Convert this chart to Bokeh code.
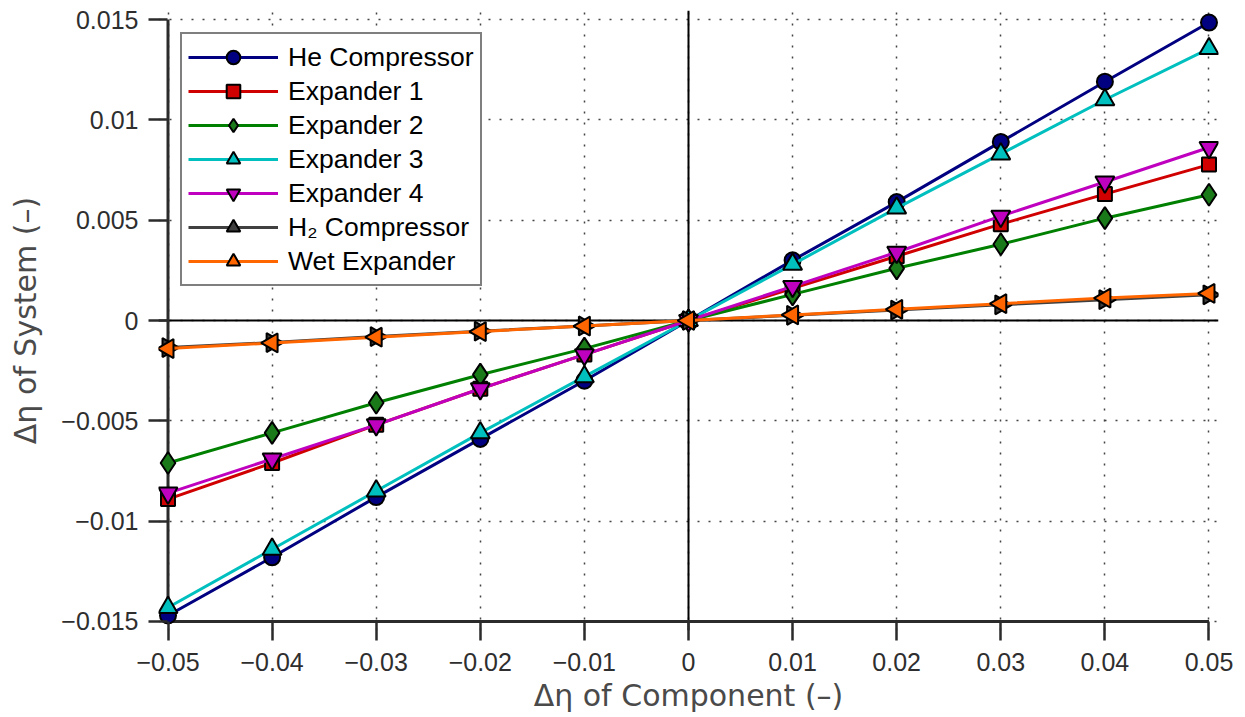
import math
from bokeh.plotting import figure
from bokeh.models import Range1d, FixedTicker, Span
from bokeh.embed import file_html
from bokeh.resources import INLINE

# ---- data ----
x_vals = [-0.05, -0.04, -0.03, -0.02, -0.01, 0.0, 0.01, 0.02, 0.03, 0.04, 0.05]

he_compressor = [-0.0147, -0.0118, -0.0088, -0.0059, -0.0030, 0.0, 0.0030, 0.0059, 0.0089, 0.0119, 0.01485]
expander_1 = [-0.0089, -0.0071, -0.0052, -0.0034, -0.0017, 0.0, 0.0016, 0.0032, 0.0048, 0.0063, 0.00777]
expander_2 = [-0.0071, -0.0056, -0.0041, -0.0027, -0.0014, 0.0, 0.0013, 0.0026, 0.0038, 0.0051, 0.00627]
expander_3 = [-0.0143, -0.0114, -0.0085, -0.0056, -0.0028, 0.0, 0.0028, 0.0056, 0.0083, 0.0110, 0.01355]
expander_4 = [-0.0086, -0.0069, -0.0052, -0.0034, -0.0017, 0.0, 0.0017, 0.0034, 0.0052, 0.0069, 0.00862]
h2_compressor = [-0.00135, -0.0011, -0.0008, -0.00053, -0.00027, 0.0, 0.00026, 0.00052, 0.00078, 0.00104, 0.00128]
wet_expander = [-0.0014, -0.00112, -0.00083, -0.00055, -0.00028, 0.0, 0.00028, 0.00056, 0.00084, 0.00112, 0.00135]

series_names = ["He Compressor", "Expander 1", "Expander 2", "Expander 3",
                "Expander 4", "H\u2082 Compressor", "Wet Expander"]
series_values = [he_compressor, expander_1, expander_2, expander_3,
                 expander_4, h2_compressor, wet_expander]

x_ticks = [-0.05, -0.04, -0.03, -0.02, -0.01, 0.0, 0.01, 0.02, 0.03, 0.04, 0.05]
x_tick_labels = ["\u22120.05", "\u22120.04", "\u22120.03", "\u22120.02", "\u22120.01", "0",
                 "0.01", "0.02", "0.03", "0.04", "0.05"]
y_ticks = [-0.015, -0.01, -0.005, 0.0, 0.005, 0.01, 0.015]
y_tick_labels = ["\u22120.015", "\u22120.01", "\u22120.005", "0", "0.005", "0.01", "0.015"]

x_title = "\u0394\u03b7 of Component (\u2013)"
y_title = "\u0394\u03b7 of System (\u2013)"

# ---- styles ----
line_colors = ["#000080", "#d00000", "#008000", "#00bfbf", "#bf00bf", "#404040", "#ff6600"]
fill_colors = ["#000080", "#d00000", "#1a7a1a", "#00bfbf", "#bf00bf", "#404040", "#ff6600"]
markers = ["circle", "square", "diamond", "triangle", "inverted_triangle", "triangle", "triangle"]
angles = [0, 0, 0, 0, 0, -math.pi / 2, math.pi / 2]
msizes = [16, 14, 22, 19, 19, 19, 19]

p = figure(width=1245, height=717, output_backend="svg", toolbar_location=None,
           x_range=Range1d(-0.050913, 0.050913), y_range=Range1d(-0.015449, 0.015449),
           min_border_left=158, min_border_right=27, min_border_top=10, min_border_bottom=87)
p.outline_line_color = None
p.background_fill_color = "white"
p.border_fill_color = "white"

tick_font = "Liberation Sans"
title_font = "DejaVu Sans"
axis_color = "#2b2b2b"

p.xaxis.ticker = FixedTicker(ticks=x_ticks)
p.yaxis.ticker = FixedTicker(ticks=y_ticks)
p.xaxis.major_label_overrides = {t: l for t, l in zip(x_ticks, x_tick_labels)}
p.yaxis.major_label_overrides = {t: l for t, l in zip(y_ticks, y_tick_labels)}

for ax in (p.xaxis, p.yaxis):
    ax.axis_line_color = None
    ax.major_tick_line_color = axis_color
    ax.major_tick_line_width = 2.5
    ax.major_tick_out = 10
    ax.major_tick_in = 9
    ax.minor_tick_line_color = None
    ax.major_label_text_font = tick_font
    ax.major_label_text_font_size = "25px"
    ax.major_label_text_color = "#2e2e2e"
    ax.axis_label_text_font = title_font
    ax.axis_label_text_font_size = "30px"
    ax.axis_label_text_font_style = "normal"
    ax.axis_label_text_color = "#4a4a4a"

p.xaxis.axis_label = x_title
p.yaxis.axis_label = y_title
p.xaxis.major_label_standoff = 12
p.yaxis.major_label_standoff = 10
p.xaxis.axis_label_standoff = 4
p.yaxis.axis_label_standoff = 15

for g in (p.xgrid, p.ygrid):
    g.grid_line_color = "#444444"
    g.grid_line_width = 1.5
    g.grid_line_dash = "2 9"
p.xgrid.ticker = FixedTicker(ticks=x_ticks)
p.ygrid.ticker = FixedTicker(ticks=y_ticks)

# zero reference lines
p.add_layout(Span(location=0, dimension="width", line_color="black", line_width=2, level="underlay"))
p.add_layout(Span(location=0, dimension="height", line_color="black", line_width=2, level="underlay"))

# axis lines along the first tick of each axis
p.segment(x0=[x_ticks[0], x_ticks[0]], y0=[y_ticks[0], y_ticks[0]],
          x1=[x_ticks[0], x_ticks[-1]], y1=[y_ticks[-1], y_ticks[0]],
          line_color=axis_color, line_width=3)

for name, vals, lc, fc, mk, ang, ms in zip(series_names, series_values, line_colors,
                                           fill_colors, markers, angles, msizes):
    p.line(x_vals, vals, line_color=lc, line_width=3, legend_label=name)
    p.scatter(x_vals, vals, marker=mk, size=ms, angle=ang, fill_color=fc,
              line_color="black", line_width=2, legend_label=name)

lg = p.legend[0]
lg.location = "top_left"
lg.margin = 22
lg.padding = 6
lg.spacing = 0
lg.glyph_width = 90
lg.glyph_height = 34
lg.label_height = 34
lg.label_standoff = 10
lg.label_text_font = "Liberation Sans"
lg.label_text_font_size = "26.5px"
lg.label_text_color = "black"
lg.border_line_color = "black"
lg.border_line_width = 2
lg.background_fill_color = "white"
lg.background_fill_alpha = 1.0

open("out.html", "w").write(file_html(p, INLINE))
